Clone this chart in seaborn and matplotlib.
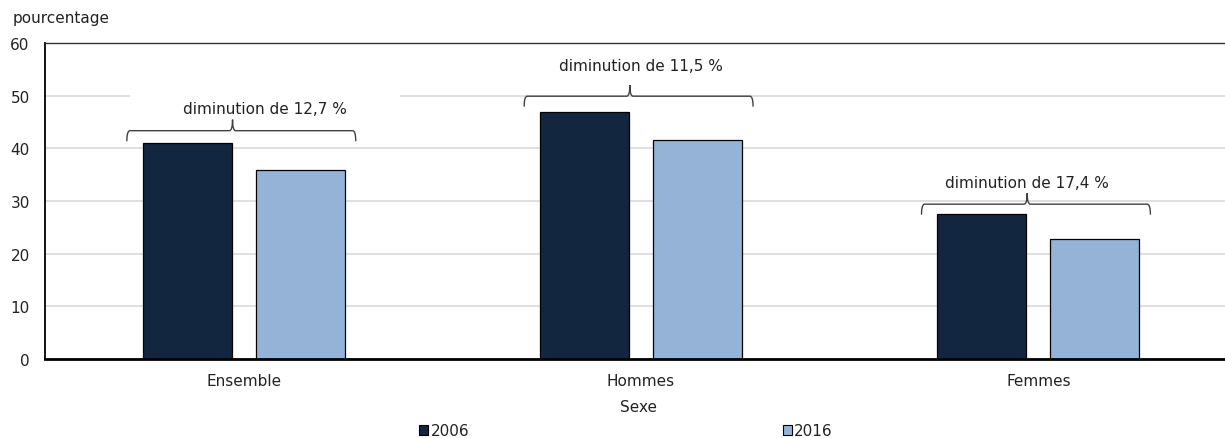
import matplotlib
matplotlib.use("Agg")
import matplotlib.pyplot as plt
from matplotlib.patches import Patch, PathPatch, Rectangle
from matplotlib.path import Path
import numpy as np
import pandas as pd
import seaborn as sns

# Data
sexes = ["Ensemble", "Hommes", "Femmes"]
annees = ["2006", "2016"]
taux_2006 = [41.0, 46.9, 27.6]
taux_2016 = [35.8, 41.5, 22.8]
y_ticks = [0, 10, 20, 30, 40, 50, 60]

df = pd.DataFrame({
    "Sexe": sexes * 2,
    "Année": [annees[0]] * len(sexes) + [annees[1]] * len(sexes),
    "pourcentage": taux_2006 + taux_2016,
})

couleurs = {"2006": "#13263F", "2016": "#95B3D7"}
texte = "#222222"
fs = 11

sns.set_theme(style="white")
plt.rcParams["font.family"] = ["DejaVu Sans"]

W, H = 1225, 439
fig = plt.figure(figsize=(W / 100, H / 100), dpi=100)
ax = fig.add_axes([45 / W, 79 / H, 1192 / W, 316 / H])

sns.barplot(data=df, x="Sexe", y="pourcentage", hue="Année",
            palette=couleurs, saturation=1, width=0.57, gap=0.214,
            edgecolor="black", linewidth=0.9, legend=False, ax=ax)

ax.set_xlim(-0.5, len(sexes) - 0.5)
ax.set_ylim(y_ticks[0], y_ticks[-1])
ax.set_yticks(y_ticks)
ax.set_yticklabels([str(t) for t in y_ticks])
ax.set_axisbelow(True)
ax.yaxis.grid(True, color="#D9D9D9", linewidth=1.2)
ax.xaxis.grid(False)

ax.tick_params(axis="y", length=0, pad=11, labelsize=fs, labelcolor=texte)
ax.tick_params(axis="x", which="major", length=0, pad=10, labelsize=fs, labelcolor=texte)
ax.set_xticks(np.arange(len(sexes) - 1) + 0.5, minor=True)
ax.tick_params(axis="x", which="minor", direction="in", length=5, width=1, color="#555555")

for side in ["top", "left", "bottom", "right"]:
    ax.spines[side].set_visible(True)
ax.spines["top"].set_color("#333333")
ax.spines["top"].set_linewidth(1.0)
ax.spines["left"].set_color("black")
ax.spines["left"].set_linewidth(1.3)
ax.spines["bottom"].set_color("black")
ax.spines["bottom"].set_linewidth(2.0)
ax.spines["right"].set_visible(False)

ax.set_ylabel("")
ax.set_xlabel("Sexe", fontsize=fs, color=texte)
ax.xaxis.label.set_va("center")
ax.xaxis.set_label_coords((638 - 45) / 1192, -(408 - 360) / 316)

fig.text(13 / W, 1 - 19 / H, "pourcentage", fontsize=fs, color=texte,
         ha="left", va="center")

# Braces with the relative decrease between the two years
brace_gap = [2.35, 3.0, 1.8]
label_gap = [4.15, 5.8, 4.1]
label_dx = [0.053, 0.0, -0.028]
r, drop, tick = 0.008, 1.9, 2.1
for i, (a, b) in enumerate(zip(taux_2006, taux_2016)):
    y = max(a, b) + brace_gap[i]
    xl, xr, xm = i - 0.294, i + 0.282, i - 0.028
    verts = [(xl, y - drop), (xl, y), (xl + r, y),
             (xm - r, y), (xm, y), (xm, y + tick),
             (xm, y), (xm + r, y),
             (xr - r, y), (xr, y), (xr, y - drop)]
    codes = [Path.MOVETO, Path.CURVE3, Path.CURVE3,
             Path.LINETO, Path.CURVE3, Path.CURVE3,
             Path.CURVE3, Path.CURVE3,
             Path.LINETO, Path.CURVE3, Path.CURVE3]
    ax.add_patch(PathPatch(Path(verts, codes), fill=False, edgecolor="#404040",
                           linewidth=1.0, zorder=4, capstyle="round"))
    baisse = (a - b) / a * 100
    lab = f"diminution de {baisse:.1f} %".replace(".", ",")
    tx, ty = i + label_dx[i], y + label_gap[i]
    ax.add_patch(Rectangle((tx - 0.34, ty - 3.0), 0.68, 6.0, facecolor="white",
                           edgecolor="none", zorder=1.5))
    ax.text(tx, ty, lab, ha="center", va="center", fontsize=fs, color=texte, zorder=5)

handles = [Patch(facecolor=couleurs[a], edgecolor="black", linewidth=0.8, label=a)
           for a in annees]
fig.legend(handles=handles, loc="center", bbox_to_anchor=(626 / W, 1 - 432 / H),
           ncol=2, frameon=False, fontsize=fs, handlelength=0.6, handleheight=0.6,
           handletextpad=0.15, columnspacing=20.5, labelcolor=texte,
           borderaxespad=0, borderpad=0)

fig.savefig("out.png", dpi=100)
